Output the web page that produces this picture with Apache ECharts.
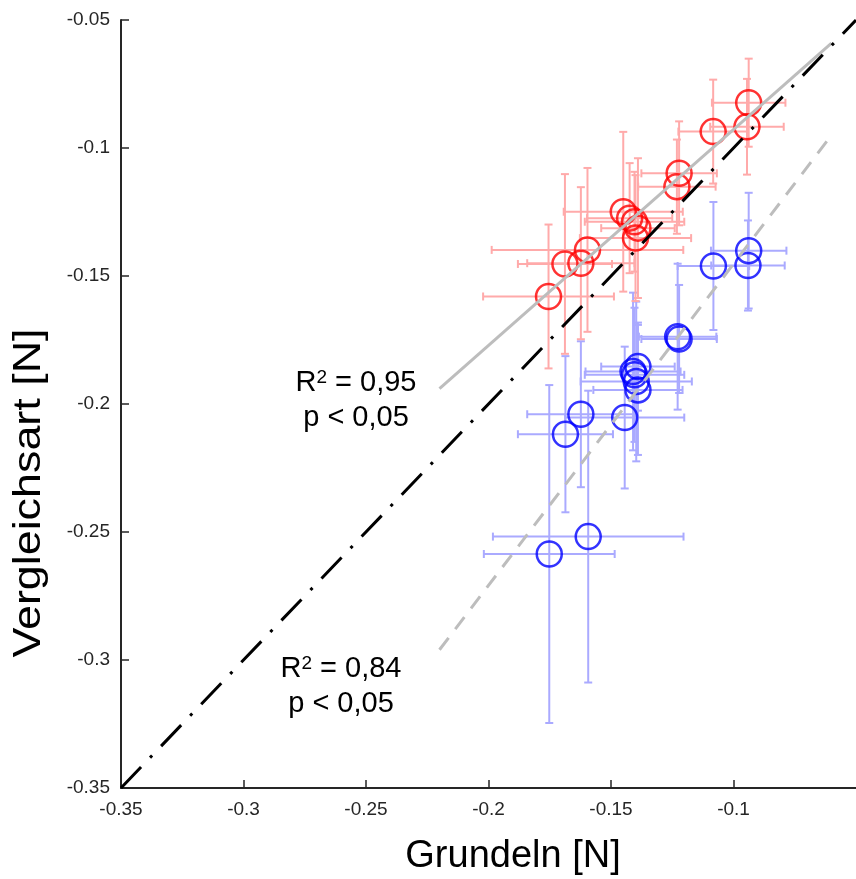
<!DOCTYPE html>
<html>
<head>
<meta charset="utf-8">
<script src="https://cdn.jsdelivr.net/npm/echarts@6/dist/echarts.min.js"></script>
<style>
  html, body { margin: 0; padding: 0; background: #ffffff; }
  #chart { width: 856px; height: 879px; }
</style>
</head>
<body>
<div id="chart"></div>
<script>
// Axis range and tick step (both axes in newtons)
const axisMin = -0.35;
const axisMax = -0.05;
const tickStep = 0.05;

// Axis titles
const xTitle = 'Grundeln [N]';
const yTitle = 'Vergleichsart [N]';

// Red group: Grundeln force, comparison-species force, and their standard deviations
const redX    = [-0.1755, -0.1688, -0.1623, -0.1596, -0.1450, -0.1424, -0.1404, -0.1390, -0.1400, -0.1222, -0.1231, -0.1083, -0.0938, -0.0945];
const redY    = [-0.1580, -0.1453, -0.1450, -0.1398, -0.1249, -0.1274, -0.1288, -0.1313, -0.1352, -0.1099, -0.1151, -0.0936, -0.0823, -0.0917];
const redXErr = [0.0267, 0.0192, 0.0219, 0.0391, 0.0243, 0.0174, 0.0203, 0.0150, 0.0227, 0.0154, 0.0158, 0.0142, 0.0150, 0.0150];
const redYErr = [0.0281, 0.0351, 0.0297, 0.0320, 0.0312, 0.0215, 0.0195, 0.0273, 0.0246, 0.0203, 0.0184, 0.0203, 0.0172, 0.0187];

// Blue group
const blueX    = [-0.0938, -0.0941, -0.1082, -0.1228, -0.1222, -0.1390, -0.1410, -0.1404, -0.1397, -0.1390, -0.1444, -0.1623, -0.1686, -0.1593, -0.1752];
const blueY    = [-0.1401, -0.1459, -0.1461, -0.1737, -0.1746, -0.1854, -0.1873, -0.1886, -0.1912, -0.1945, -0.2053, -0.2040, -0.2118, -0.2518, -0.2586];
const blueXErr = [0.0154, 0.0150, 0.0146, 0.0158, 0.0154, 0.0150, 0.0194, 0.0203, 0.0227, 0.0182, 0.0243, 0.0219, 0.0194, 0.0389, 0.0267];
const blueYErr = [0.0226, 0.0176, 0.0250, 0.0285, 0.0211, 0.0172, 0.0308, 0.0262, 0.0312, 0.0254, 0.0277, 0.0285, 0.0305, 0.0570, 0.0660];

// Regression lines (end points) and the 1:1 reference line
const fitX     = [-0.22, -0.06];
const redFitY  = [-0.194, -0.059];
const blueFitY = [-0.296, -0.095];
const unityX   = [-0.35, -0.05];
const unityY   = [-0.35, -0.05];

// Fit statistics
const redFitR2  = '0,95';
const blueFitR2 = '0,84';
const pText     = 'p < 0,05';

const FONT = '"Liberation Sans", Arial, Helvetica, sans-serif';
const AXIS_COLOR = '#262626';

function pairs(xs, ys) { return xs.map((x, i) => [x, ys[i]]); }
function errRows(xs, ys, xe, ye) { return xs.map((x, i) => [x, ys[i], xe[i], ye[i]]); }

// Cross-shaped error bars with small end caps
function errorBarRenderer(color) {
  return function (params, api) {
    const x = api.value(0), y = api.value(1);
    const ex = api.value(2), ey = api.value(3);
    const l = api.coord([x - ex, y]);
    const r = api.coord([x + ex, y]);
    const t = api.coord([x, y + ey]);
    const b = api.coord([x, y - ey]);
    const c = 4;
    const seg = (x1, y1, x2, y2) => ({
      type: 'line',
      shape: { x1, y1, x2, y2 },
      style: { stroke: color, lineWidth: 2, fill: null }
    });
    return {
      type: 'group',
      children: [
        seg(l[0], l[1], r[0], r[1]),
        seg(l[0], l[1] - c, l[0], l[1] + c),
        seg(r[0], r[1] - c, r[0], r[1] + c),
        seg(t[0], t[1], b[0], b[1]),
        seg(t[0] - c, t[1], t[0] + c, t[1]),
        seg(b[0] - c, b[1], b[0] + c, b[1])
      ]
    };
  };
}

function statLabel(r2, cx, cy) {
  return [
    {
      type: 'text', x: cx, y: cy, silent: true,
      style: {
        text: '{r|R}{s|2}{r| = ' + r2 + '}',
        align: 'center', verticalAlign: 'middle',
        rich: {
          r: { fontSize: 29, fontFamily: FONT, fill: '#000', verticalAlign: 'bottom' },
          s: { fontSize: 19, fontFamily: FONT, fill: '#000', verticalAlign: 'top' }
        }
      }
    },
    {
      type: 'text', x: cx, y: cy + 35, silent: true,
      style: {
        text: pText, fontSize: 29, fontFamily: FONT, fill: '#000',
        align: 'center', verticalAlign: 'middle'
      }
    }
  ];
}

const tickLabel = v => String(+v.toFixed(2));

const baseAxis = {
  type: 'value',
  min: axisMin,
  max: axisMax,
  interval: tickStep,
  splitLine: { show: false },
  axisLine: { show: true, onZero: false, lineStyle: { color: AXIS_COLOR, width: 2 } },
  axisTick: { show: true, inside: true, length: 8, lineStyle: { color: AXIS_COLOR, width: 1.5 } },
  axisLabel: { color: AXIS_COLOR, fontSize: 19, fontFamily: FONT, margin: 11, formatter: tickLabel }
};

const chart = echarts.init(document.getElementById('chart'), null, { renderer: 'canvas' });

chart.setOption({
  animation: false,
  backgroundColor: '#ffffff',
  grid: { left: 121, top: 20, width: 740, height: 768, containLabel: false },
  xAxis: Object.assign({}, baseAxis, {
    axisLabel: Object.assign({}, baseAxis.axisLabel, { showMaxLabel: false, margin: 12 })
  }),
  yAxis: Object.assign({}, baseAxis),
  graphic: [
    {
      type: 'text', x: 513, y: 857, silent: true,
      style: { text: xTitle, fontSize: 38, fontFamily: FONT, fill: '#000', align: 'center', verticalAlign: 'middle' }
    },
    {
      type: 'text', x: 30, y: 493, rotation: Math.PI / 2, scaleX: 1.18, silent: true,
      style: { text: yTitle, fontSize: 38, fontFamily: FONT, fill: '#000', align: 'center', verticalAlign: 'middle' }
    }
  ].concat(statLabel(redFitR2, 356, 383), statLabel(blueFitR2, 341, 669)),
  series: [
    {
      type: 'custom', name: 'blueErr', z: 1, silent: true, clip: false,
      encode: { x: 0, y: 1 },
      renderItem: errorBarRenderer('#aaaaff'),
      data: errRows(blueX, blueY, blueXErr, blueYErr)
    },
    {
      type: 'custom', name: 'redErr', z: 1, silent: true, clip: false,
      encode: { x: 0, y: 1 },
      renderItem: errorBarRenderer('#ffaaaa'),
      data: errRows(redX, redY, redXErr, redYErr)
    },
    {
      type: 'scatter', name: 'blue', z: 2, silent: true,
      symbol: 'circle', symbolSize: 25,
      itemStyle: { color: 'rgba(0,0,0,0)', borderColor: '#0000ff', borderWidth: 2.5 },
      data: pairs(blueX, blueY)
    },
    {
      type: 'scatter', name: 'red', z: 2, silent: true,
      symbol: 'circle', symbolSize: 25,
      itemStyle: { color: 'rgba(0,0,0,0)', borderColor: '#ff0000', borderWidth: 2.5 },
      data: pairs(redX, redY)
    },
    {
      type: 'line', name: 'redFit', z: 3, silent: true, symbol: 'none',
      lineStyle: { color: '#bdbdbd', width: 3 },
      data: pairs(fitX, redFitY)
    },
    {
      type: 'line', name: 'blueFit', z: 3, silent: true, symbol: 'none',
      lineStyle: { color: '#bdbdbd', width: 3, type: [15, 11] },
      data: pairs(fitX, blueFitY)
    },
    {
      type: 'line', name: 'unity', z: 4, silent: true, symbol: 'none', clip: false,
      lineStyle: { color: '#000000', width: 3, type: [29, 13, 3, 13] },
      data: pairs(unityX, unityY)
    }
  ]
});
</script>
</body>
</html>
